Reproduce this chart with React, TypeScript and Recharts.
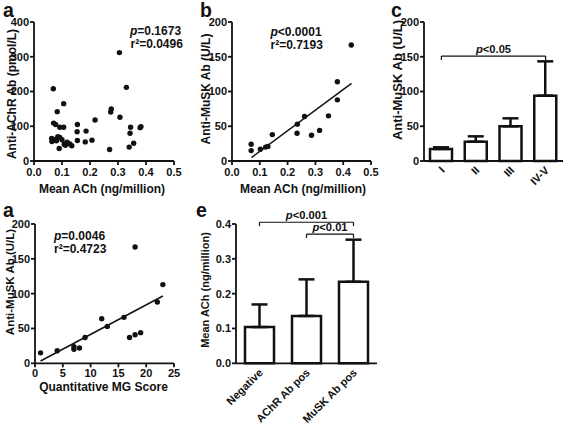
import React from 'react';
import { ScatterChart, Scatter, XAxis, YAxis, ReferenceLine, BarChart, Bar, ErrorBar } from 'recharts';

const FONT = '"Liberation Sans", Arial, Helvetica, sans-serif';
const INK = '#111';

// ---- Panel a (top): anti-AChR Ab vs mean ACh ----
const achrAchX = [0.069, 0.305, 0.330, 0.106, 0.083, 0.276, 0.274, 0.218, 0.307, 0.070, 0.077, 0.092, 0.106, 0.155, 0.345, 0.343, 0.382, 0.379, 0.154, 0.186, 0.063, 0.067, 0.064, 0.072, 0.085, 0.092, 0.100, 0.108, 0.118, 0.128, 0.135, 0.090, 0.155, 0.183, 0.207, 0.270, 0.340, 0.356, 0.112, 0.080];
const achrAbY = [208, 312, 212, 165, 142, 150, 141, 118, 126, 109, 105, 97, 97, 105, 97, 80, 99, 96, 84, 86, 65, 60, 56, 62, 70, 68, 61, 48, 54, 49, 44, 36, 59, 55, 60, 33, 40, 51, 45, 58];
const achXTicks = [0, 0.1, 0.2, 0.3, 0.4, 0.5];
const achrYTicks = [0, 100, 200, 300, 400];

// ---- Panel b: anti-MuSK Ab vs mean ACh ----
const muskAchX = [0.429, 0.379, 0.379, 0.347, 0.261, 0.235, 0.234, 0.286, 0.315, 0.145, 0.069, 0.069, 0.102, 0.121, 0.129];
const muskAbY = [167, 114, 88, 65, 64, 53, 40, 37, 44, 38, 24, 15, 17, 20, 21];
const muskFit = { slope: 296.7, intercept: -15.8, from: 0.07, to: 0.43 };
const muskYTicks = [0, 50, 100, 150, 200];

// ---- Panel a (bottom): anti-MuSK Ab vs quantitative MG score ----
const mgScoreX = [1, 4, 7, 7, 8, 9, 12, 13, 16, 17, 18, 19, 18, 22, 23];
const mgMuskY = [15, 18, 24, 20, 22, 37, 64, 53, 66, 37, 41, 44, 167, 88, 113];
const mgFit = { slope: 4.24, intercept: -0.9, from: 1, to: 23 };
const mgXTicks = [0, 5, 10, 15, 20, 25];

// ---- Panel c: anti-MuSK Ab by MGFA class ----
const stages = ['I', 'II', 'III', 'IV-V'];
const stageMean = [17.3, 27.8, 49.9, 94.0];
const stageSD = [2.4, 7.7, 11.5, 49.4];

// ---- Panel e: mean ACh by antibody group ----
const groups = ['Negative', 'AChR Ab pos', 'MuSK Ab pos'];
const groupMean = [0.104, 0.136, 0.234];
const groupSD = [0.065, 0.105, 0.121];
const eYTicks = [0, 0.1, 0.2, 0.3, 0.4];

const pts = (xs: number[], ys: number[]) => xs.map((x, i) => ({ x, y: ys[i] }));
const fitSeg = (f: { slope: number; intercept: number; from: number; to: number }) => [
  { x: f.from, y: f.slope * f.from + f.intercept },
  { x: f.to, y: f.slope * f.to + f.intercept },
];
const bars = (names: string[], means: number[], sds: number[]) =>
  names.map((name, i) => ({ name, value: means[i], err: [0, sds[i]] }));

const axisLine = { stroke: INK, strokeWidth: 1.8 };
const tickStyle = { fill: INK, fontSize: 11, fontWeight: 700, fontFamily: FONT };
const f1 = (v: number) => v.toFixed(1);

const Dot = (p: any) => <circle cx={p.cx} cy={p.cy} r={2.7} fill={INK} />;

const RotTick = (props: any) => {
  const { x, y, payload } = props;
  const tx = x + 4;
  const ty = y + 10;
  return (
    <text x={tx} y={ty} transform={`rotate(-45 ${tx} ${ty})`} textAnchor="end" style={tickStyle}>
      {payload.value}
    </text>
  );
};

const bracketLabel = (text: string) => (props: any) => {
  const vb = props.viewBox;
  if (!vb) return null;
  return (
    <text x={vb.x + vb.width / 2} y={vb.y - 3} textAnchor="middle" style={{ fill: INK, fontSize: 11.2, fontWeight: 700, fontFamily: FONT }}>
      <tspan fontStyle="italic">p</tspan>
      {text}
    </text>
  );
};

const bracketStroke = { stroke: INK, strokeWidth: 1.2 };

const T = ({ x, y, children, size = 12, anchor = 'start', rotate = false }: any) => (
  <text
    x={x}
    y={y}
    textAnchor={anchor}
    dy={rotate ? '0.35em' : undefined}
    transform={rotate ? `rotate(-90 ${x} ${y})` : undefined}
    style={{ fill: INK, fontSize: size, fontWeight: 700, fontFamily: FONT }}
  >
    {children}
  </text>
);

export default function App() {
  const stageData = bars(stages, stageMean, stageSD);
  const groupData = bars(groups, groupMean, groupSD);
  return (
    <div style={{ position: 'absolute', left: 0, top: 0, width: 567, height: 424, background: '#fff', overflow: 'hidden' }}>
      {/* panel a top */}
      <div style={{ position: 'absolute', left: 0, top: 0 }}>
        <ScatterChart width={195} height={200} margin={{ top: 22, right: 21, bottom: 0, left: 0 }}>
          <XAxis type="number" dataKey="x" domain={[0, 0.5]} ticks={achXTicks} tickFormatter={f1} interval={0} height={39} axisLine={axisLine} tickLine={axisLine} tickSize={4} tickMargin={3} tick={tickStyle} />
          <YAxis type="number" dataKey="y" domain={[0, 400]} ticks={achrYTicks} interval={0} width={34} axisLine={axisLine} tickLine={axisLine} tickSize={4} tickMargin={1} tick={tickStyle} />
          <Scatter data={pts(achrAchX, achrAbY)} shape={Dot} isAnimationActive={false} />
        </ScatterChart>
      </div>
      {/* panel b */}
      <div style={{ position: 'absolute', left: 195, top: 0 }}>
        <ScatterChart width={190} height={200} margin={{ top: 22, right: 14, bottom: 0, left: 0 }}>
          <XAxis type="number" dataKey="x" domain={[0, 0.5]} ticks={achXTicks} tickFormatter={f1} interval={0} height={39} axisLine={axisLine} tickLine={axisLine} tickSize={4} tickMargin={3} tick={tickStyle} />
          <YAxis type="number" dataKey="y" domain={[0, 200]} ticks={muskYTicks} interval={0} width={37} axisLine={axisLine} tickLine={axisLine} tickSize={4} tickMargin={1} tick={tickStyle} />
          <ReferenceLine segment={fitSeg(muskFit)} stroke={INK} strokeWidth={1.5} ifOverflow="visible" />
          <Scatter data={pts(muskAchX, muskAbY)} shape={Dot} isAnimationActive={false} />
        </ScatterChart>
      </div>
      {/* panel c */}
      <div style={{ position: 'absolute', left: 385, top: 0 }}>
        <BarChart width={182} height={200} data={stageData} margin={{ top: 22, right: 4, bottom: 0, left: 0 }}>
          <XAxis type="category" dataKey="name" interval={0} height={39} axisLine={axisLine} tickLine={false} tickSize={0} tickMargin={0} tick={<RotTick />} />
          <YAxis type="number" domain={[0, 200]} ticks={muskYTicks} interval={0} width={39} axisLine={axisLine} tickLine={axisLine} tickSize={4} tickMargin={1} tick={tickStyle} />
          <Bar dataKey="value" fill="#fff" stroke={INK} strokeWidth={2.5} barSize={22} isAnimationActive={false}>
            <ErrorBar dataKey="err" width={8} stroke={INK} strokeWidth={2.5} direction="y" />
          </Bar>
          <ReferenceLine segment={[{ x: 'I', y: 151 }, { x: 'IV-V', y: 151 }]} {...bracketStroke} ifOverflow="visible" label={bracketLabel('<0.05')} />
          <ReferenceLine segment={[{ x: 'I', y: 151 }, { x: 'I', y: 145.5 }]} {...bracketStroke} ifOverflow="visible" />
          <ReferenceLine segment={[{ x: 'IV-V', y: 151 }, { x: 'IV-V', y: 145.5 }]} {...bracketStroke} ifOverflow="visible" />
        </BarChart>
      </div>
      {/* panel a bottom */}
      <div style={{ position: 'absolute', left: 0, top: 200 }}>
        <ScatterChart width={195} height={224} margin={{ top: 24, right: 21, bottom: 0, left: 0 }}>
          <XAxis type="number" dataKey="x" domain={[0, 25]} ticks={mgXTicks} interval={0} height={60.7} axisLine={axisLine} tickLine={axisLine} tickSize={4} tickMargin={2} tick={tickStyle} />
          <YAxis type="number" dataKey="y" domain={[0, 200]} ticks={muskYTicks} interval={0} width={35} axisLine={axisLine} tickLine={axisLine} tickSize={4} tickMargin={1} tick={tickStyle} />
          <ReferenceLine segment={fitSeg(mgFit)} stroke={INK} strokeWidth={1.5} ifOverflow="visible" />
          <Scatter data={pts(mgScoreX, mgMuskY)} shape={Dot} isAnimationActive={false} />
        </ScatterChart>
      </div>
      {/* panel e */}
      <div style={{ position: 'absolute', left: 195, top: 200 }}>
        <BarChart width={200} height={224} data={groupData} margin={{ top: 24, right: 18, bottom: 0, left: 0 }}>
          <XAxis type="category" dataKey="name" interval={0} height={60.7} axisLine={axisLine} tickLine={false} tickSize={0} tickMargin={0} tick={<RotTick />} />
          <YAxis type="number" domain={[0, 0.4]} ticks={eYTicks} tickFormatter={f1} interval={0} width={41} axisLine={axisLine} tickLine={axisLine} tickSize={4} tickMargin={1} tick={tickStyle} />
          <Bar dataKey="value" fill="#fff" stroke={INK} strokeWidth={2.5} barSize={29} isAnimationActive={false}>
            <ErrorBar dataKey="err" width={8} stroke={INK} strokeWidth={2.5} direction="y" />
          </Bar>
          <ReferenceLine segment={[{ x: 'Negative', y: 0.405 }, { x: 'MuSK Ab pos', y: 0.405 }]} {...bracketStroke} ifOverflow="visible" label={bracketLabel('<0.001')} />
          <ReferenceLine segment={[{ x: 'Negative', y: 0.405 }, { x: 'Negative', y: 0.394 }]} {...bracketStroke} ifOverflow="visible" />
          <ReferenceLine segment={[{ x: 'MuSK Ab pos', y: 0.405 }, { x: 'MuSK Ab pos', y: 0.394 }]} {...bracketStroke} ifOverflow="visible" />
          <ReferenceLine segment={[{ x: 'AChR Ab pos', y: 0.371 }, { x: 'MuSK Ab pos', y: 0.371 }]} {...bracketStroke} ifOverflow="visible" label={bracketLabel('<0.01')} />
          <ReferenceLine segment={[{ x: 'AChR Ab pos', y: 0.371 }, { x: 'AChR Ab pos', y: 0.36 }]} {...bracketStroke} ifOverflow="visible" />
          <ReferenceLine segment={[{ x: 'MuSK Ab pos', y: 0.371 }, { x: 'MuSK Ab pos', y: 0.36 }]} {...bracketStroke} ifOverflow="visible" />
        </BarChart>
      </div>
      {/* text overlay: panel letters, statistics, axis titles */}
      <svg width={567} height={424} style={{ position: 'absolute', left: 0, top: 0, pointerEvents: 'none' }}>
        <T x={3} y={17} size={19.5}>a</T>
        <T x={200} y={17} size={19.5}>b</T>
        <T x={391} y={17} size={19.5}>c</T>
        <T x={3} y={216.5} size={19.5}>a</T>
        <T x={196} y={216.5} size={19.5}>e</T>

        <T x={130} y={34.5}><tspan fontStyle="italic">p</tspan>=0.1673</T>
        <T x={130.5} y={47.5}>r²=0.0496</T>
        <T x={270.5} y={35.5}><tspan fontStyle="italic">p</tspan>&lt;0.0001</T>
        <T x={270.5} y={48.5}>r²=0.7193</T>
        <T x={54} y={240}><tspan fontStyle="italic">p</tspan>=0.0046</T>
        <T x={54} y={253}>r²=0.4723</T>

        <T x={102} y={193} anchor="middle">Mean ACh (ng/million)</T>
        <T x={303} y={193} anchor="middle">Mean ACh (ng/million)</T>
        <T x={103.5} y={390.5} anchor="middle">Quantitative MG Score</T>
        <T x={12} y={94} anchor="middle" rotate>Anti-AChR Ab (pmol/L)</T>
        <T x={206} y={89} anchor="middle" rotate>Anti-MuSK Ab (U/L)</T>
        <T x={397} y={80} anchor="middle" rotate size={13}>Anti-MuSK Ab (U/L)</T>
        <T x={9.5} y={282} anchor="middle" rotate size={11.5}>Anti-MuSK Ab (U/L)</T>
        <T x={205} y={290} anchor="middle" rotate size={11}>Mean ACh (ng/million)</T>
      </svg>
    </div>
  );
}
